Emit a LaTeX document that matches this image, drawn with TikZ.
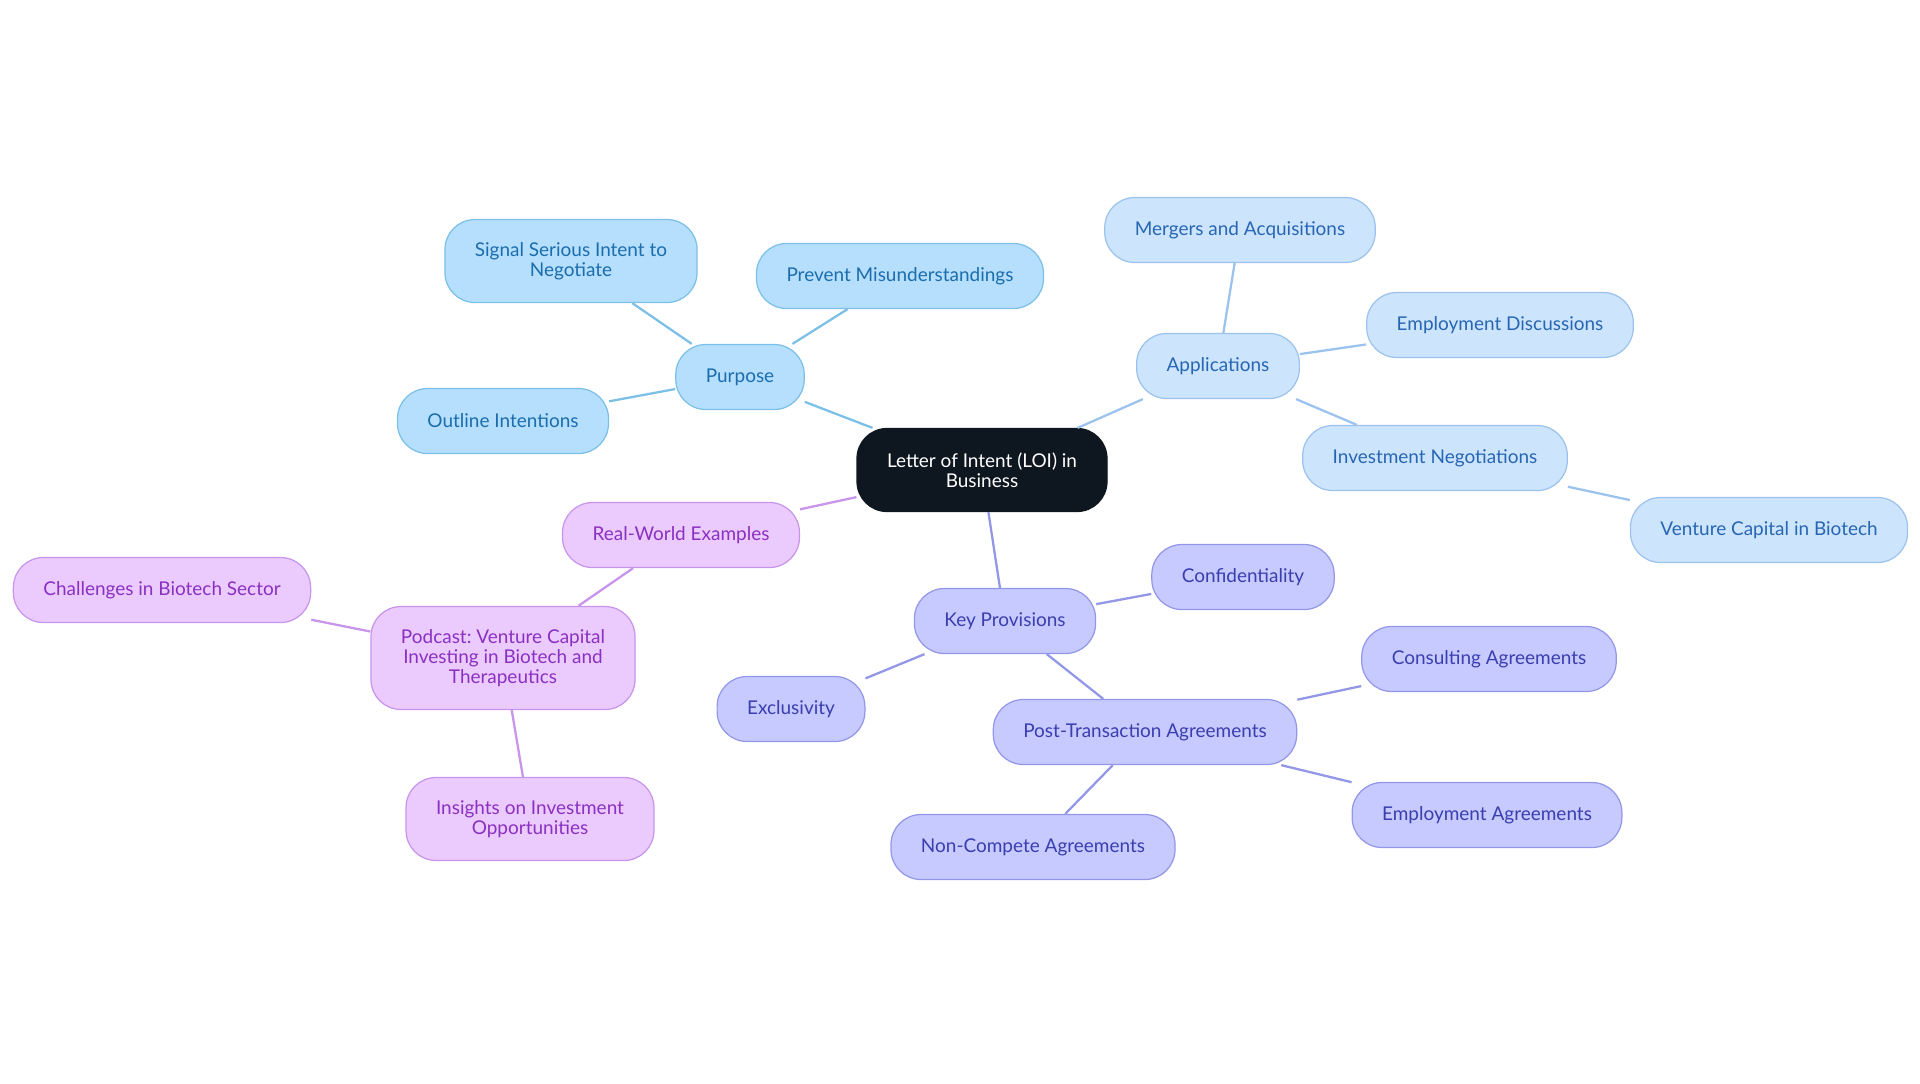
\documentclass[tikz,border=0pt]{standalone}
\usepackage{fontspec}
\setmainfont{Lato}
\usepackage{tikz}
\frenchspacing

\definecolor{rootfill}{HTML}{0E161F}
\definecolor{purfill}{HTML}{B5DFFD}
\definecolor{purline}{HTML}{7CC0E8}
\definecolor{purtext}{HTML}{1B6DAE}
\definecolor{appfill}{HTML}{CDE4FD}
\definecolor{appline}{HTML}{9CC3EE}
\definecolor{apptext}{HTML}{2766B4}
\definecolor{keyfill}{HTML}{C7CAFE}
\definecolor{keyline}{HTML}{9397E8}
\definecolor{keytext}{HTML}{3A3EAF}
\definecolor{realfill}{HTML}{EBCBFD}
\definecolor{realline}{HTML}{C894EC}
\definecolor{realtext}{HTML}{8A30C2}

\begin{document}
\begin{tikzpicture}[x=0.02cm, y=-0.02cm,
  topic/.style={rounded corners=0.6cm, minimum height=1.3cm, inner xsep=0.6cm,
    align=center, font=\fontsize{10.8}{11.4}\selectfont, line width=0.7pt},
  root/.style={topic, fill=rootfill, draw=rootfill, text=white, minimum height=1.66cm},
  purbox/.style={topic, fill=purfill, draw=purline, text=purtext},
  appbox/.style={topic, fill=appfill, draw=appline, text=apptext},
  keybox/.style={topic, fill=keyfill, draw=keyline, text=keytext},
  realbox/.style={topic, fill=realfill, draw=realline, text=realtext},
  twoline/.style={minimum height=1.66cm},
  link/.style={line width=1.3pt}]
  \useasboundingbox (0,0) rectangle (1920,1083);

  % Center topic
  \node[root] (loi) at (982,470) {Letter of Intent (LOI) in\\Business};

  % Purpose branch
  \node[purbox] (purpose) at (740,377) {Purpose};
  \node[purbox, twoline] (signal) at (571,261) {Signal Serious Intent to\\Negotiate};
  \node[purbox] (prevent) at (900,276) {Prevent Misunderstandings};
  \node[purbox] (outline) at (503,421) {Outline Intentions};

  % Applications branch
  \node[appbox] (apps) at (1218,366) {Applications};
  \node[appbox] (mergers) at (1240,230) {Mergers and Acquisitions};
  \node[appbox] (empdisc) at (1500,325) {Employment Discussions};
  \node[appbox] (invneg) at (1435,458) {Investment Negotiations};
  \node[appbox] (vcbio) at (1769,530) {Venture Capital in Biotech};

  % Key provisions branch
  \node[keybox] (keyprov) at (1005,621) {Key Provisions};
  \node[keybox] (confid) at (1243,577) {Confidentiality};
  \node[keybox] (exclus) at (791,709) {Exclusivity};
  \node[keybox] (posttx) at (1145,732) {Post-Transaction Agreements};
  \node[keybox] (consult) at (1489,659) {Consulting Agreements};
  \node[keybox] (empagr) at (1487,815) {Employment Agreements};
  \node[keybox] (noncomp) at (1033,847) {Non-Compete Agreements};

  % Real-world branch
  \node[realbox] (realworld) at (681,535) {Real-World Examples};
  \node[realbox, minimum height=2.06cm] (podcast) at (503,658) {Podcast: Venture Capital\\Investing in Biotech and\\Therapeutics};
  \node[realbox] (challenges) at (162,590) {Challenges in Biotech Sector};
  \node[realbox, twoline] (insights) at (530,819) {Insights on Investment\\Opportunities};

  % Connectors
  \draw[link, purline] (loi) -- (purpose);
  \draw[link, purline] (purpose) -- (signal);
  \draw[link, purline] (purpose) -- (prevent);
  \draw[link, purline] (purpose) -- (outline);
  \draw[link, appline] (loi) -- (apps);
  \draw[link, appline] (apps) -- (mergers);
  \draw[link, appline] (apps) -- (empdisc);
  \draw[link, appline] (apps) -- (invneg);
  \draw[link, appline] (invneg) -- (vcbio);
  \draw[link, keyline] (loi) -- (keyprov);
  \draw[link, keyline] (keyprov) -- (confid);
  \draw[link, keyline] (keyprov) -- (exclus);
  \draw[link, keyline] (keyprov) -- (posttx);
  \draw[link, keyline] (posttx) -- (consult);
  \draw[link, keyline] (posttx) -- (empagr);
  \draw[link, keyline] (posttx) -- (noncomp);
  \draw[link, realline] (loi) -- (realworld);
  \draw[link, realline] (realworld) -- (podcast);
  \draw[link, realline] (podcast) -- (challenges);
  \draw[link, realline] (podcast) -- (insights);
\end{tikzpicture}
\end{document}
